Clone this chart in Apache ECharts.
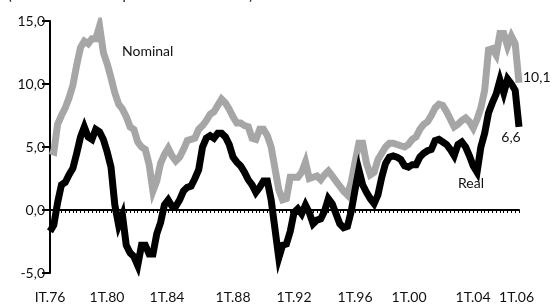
<!DOCTYPE html>
<html><head><meta charset="utf-8">
<script src="https://cdn.jsdelivr.net/npm/echarts@6/dist/echarts.min.js"></script>
<style>html,body{margin:0;padding:0;background:#fff}#c{width:553px;height:306px}</style>
</head><body><div id="c"></div>
<script>
// Quarterly categories 1T.76 .. 4T.06
const categories = [];
for (let y = 1976; y <= 2006; y++) {
  for (let q = 1; q <= 4; q++) categories.push(q + 'T.' + String(y).slice(2));
}
const tickCategories = ["1T.76","1T.80","1T.84","1T.88","1T.92","1T.96","1T.00","1T.04","1T.06"];
const tickLabels     = ["IT.76","1T.80","1T.84","1T.88","1T.92","1T.96","1T.00","1T.04","1T.06"];

const nominal = [
 4.7,4.6,6.8,7.5,8.1,8.9,9.9,11.5,12.9,13.4,
 13.2,13.6,13.6,14.6,12.5,11.6,10.5,9.3,8.4,8.0,
 7.4,6.6,6.4,5.4,5.0,4.8,3.6,1.5,2.3,3.7,
 4.4,4.9,4.3,3.9,4.2,4.8,5.5,5.6,5.7,6.4,
 6.7,7.1,7.6,7.8,8.3,8.8,8.5,8.0,7.4,6.9,
 6.9,6.7,6.6,5.7,5.6,6.4,6.4,5.9,5.0,3.3,
 1.6,0.8,0.9,2.6,2.6,2.6,3.0,3.8,2.5,2.6,
 2.7,2.4,2.8,3.1,2.7,2.3,1.9,1.5,1.2,2.2,
 3.8,5.3,5.3,3.7,2.8,3.0,4.0,4.5,5.0,5.3,
 5.3,5.2,5.1,5.0,5.2,5.6,5.8,6.4,6.8,7.0,
 7.5,8.1,8.4,8.3,7.8,7.2,6.6,6.8,7.1,7.3,
 7.0,6.5,7.2,8.1,9.5,12.7,12.8,12.3,14.0,14.0,
 13.0,13.8,13.2,10.1
];
const real = [
 -1.7,-1.2,0.6,2.0,2.2,2.8,3.3,4.5,5.8,6.6,
 5.8,5.6,6.4,6.2,5.6,4.6,3.4,0.4,-1.2,-0.4,
 -2.8,-3.4,-3.7,-4.4,-2.8,-2.8,-3.5,-3.5,-1.9,-1.0,
 0.4,0.8,0.3,0.3,0.8,1.5,1.8,1.9,2.5,3.2,
 5.0,5.7,5.9,5.7,6.1,6.1,5.8,5.2,4.2,3.8,
 3.5,3.0,2.4,2.0,1.4,1.8,2.3,2.3,0.8,-1.5,
 -3.8,-2.8,-2.7,-1.7,-0.2,0.1,-0.3,0.4,-0.2,-1.1,
 -0.8,-0.7,-0.1,0.9,0.5,-0.3,-1.1,-1.4,-1.3,-0.1,
 1.6,3.2,2.0,1.4,0.9,0.5,1.2,2.6,3.7,4.2,
 4.3,4.2,4.0,3.5,3.4,3.6,3.6,4.2,4.5,4.7,
 4.8,5.5,5.6,5.4,5.2,4.8,4.3,5.2,5.4,5.0,
 4.3,3.5,3.0,5.0,6.1,7.7,8.5,9.2,10.3,9.3,
 10.4,10.0,9.5,6.6
];
const yTicks = {min: -5, max: 15, interval: 5};
const titleText = "(% de variación respecto al año anterior)";

const FONT = 'Lato';
const fmt = v => v.toFixed(1).replace('.', ',');

// label nudges (style only): left/right padding per tick label
const labelPad = {"1T.80": [0,8,0,0], "1T.84": [0,10,0,0], "1T.00": [0,14,0,0], "1T.04": [0,8,0,0], "1T.06": [0,0,0,18]};
const rich = {};
Object.keys(labelPad).forEach((k, i) => { rich['p' + i] = {padding: labelPad[k], fontSize: 14, color: '#111', fontFamily: FONT}; });

const chart = echarts.init(document.getElementById('c'), null, {renderer: 'canvas'});
chart.setOption({
  animation: false,
  backgroundColor: '#fff',
  textStyle: {fontFamily: FONT},
  title: {text: titleText, left: 3, top: -17, textStyle: {fontFamily: FONT, fontSize: 14, fontWeight: 'normal', color: '#111'}},
  grid: {left: 50, right: 34, top: 21, bottom: 33},
  xAxis: [
    {
      type: 'category', data: categories, boundaryGap: false, position: 'bottom',
      axisLine: {show: false, onZero: false}, axisTick: {show: false}, splitLine: {show: false},
      axisLabel: {
        interval: (idx, val) => tickCategories.indexOf(val) >= 0,
        hideOverlap: false,
        formatter: val => {
          const t = tickLabels[tickCategories.indexOf(val)];
          const keys = Object.keys(labelPad);
          const k = keys.indexOf(val);
          return k >= 0 ? '{p' + k + '|' + t + '}' : t;
        },
        rich: rich,
        margin: 17, fontSize: 14, color: '#111', fontFamily: FONT
      }
    },
    {
      type: 'category', data: categories, boundaryGap: false, position: 'bottom',
      axisLine: {show: true, onZero: true, lineStyle: {color: '#000', width: 2}},
      axisTick: {show: true, interval: 0, length: 3, lineStyle: {color: '#000', width: 1}},
      axisLabel: {show: false}, splitLine: {show: false}
    }
  ],
  yAxis: {
    type: 'value', min: yTicks.min, max: yTicks.max, interval: yTicks.interval,
    axisLine: {show: true, lineStyle: {color: '#000', width: 2}},
    axisTick: {show: true, length: 8, lineStyle: {color: '#000', width: 2}},
    splitLine: {show: false},
    axisLabel: {formatter: fmt, fontSize: 14, color: '#111', margin: 5, fontFamily: FONT}
  },
  series: [
    {
      name: 'Nominal', type: 'line', data: nominal, xAxisIndex: 0, symbol: 'none', z: 2,
      lineStyle: {color: '#a6a6a6', width: 7, join: 'miter'},
      endLabel: {show: true, formatter: p => fmt(p.value), distance: 4, offset: [0, -5],
        fontSize: 14, color: '#111', fontFamily: FONT}
    },
    {
      name: 'Real', type: 'line', data: real, xAxisIndex: 0, symbol: 'none', z: 3,
      lineStyle: {color: '#000', width: 7, join: 'miter'},
      endLabel: {show: true, formatter: p => fmt(p.value), distance: 0, align: 'center',
        verticalAlign: 'middle', offset: [-8, 11], fontSize: 14, color: '#111', fontFamily: FONT}
    }
  ],
  graphic: [
    {type: 'text', left: 122, top: 44, style: {text: 'Nominal', font: '14px ' + FONT, fill: '#111'}},
    {type: 'text', left: 458, top: 176, style: {text: 'Real', font: '14px ' + FONT, fill: '#111'}}
  ]
});
</script>
</body></html>
